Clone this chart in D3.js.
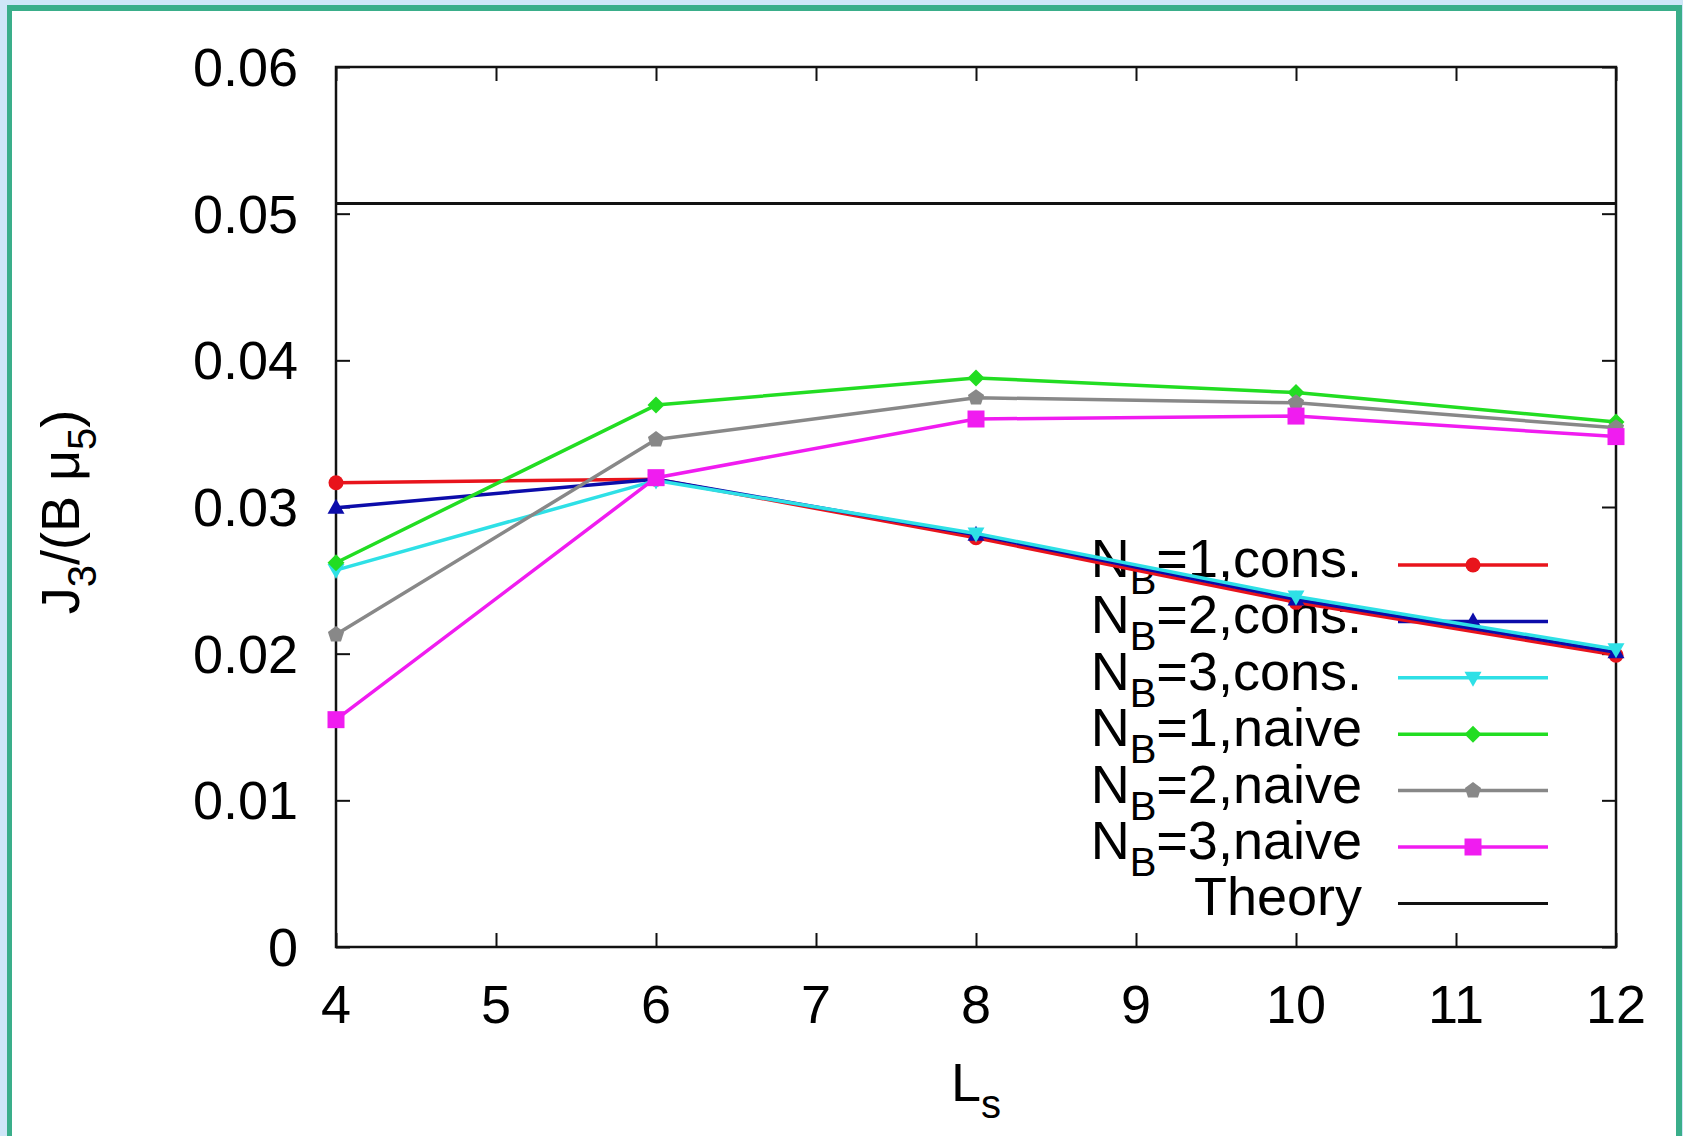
<!DOCTYPE html>
<html>
<head>
<meta charset="utf-8">
<script src="https://cdn.jsdelivr.net/npm/d3@7"></script>
<style>
  html, body { margin: 0; padding: 0; background: #cfe6f8; }
  svg { display: block; }
  text { font-family: "Liberation Sans", Arial, Helvetica, sans-serif; fill: #000; }
</style>
</head>
<body>
<svg id="chart" width="1683" height="1136"></svg>
<script>
// ---------------- data ----------------
const Ls = [4, 6, 8, 10, 12];
const nb1Cons  = [0.03165, 0.0319, 0.0279, 0.0235, 0.0199];
const nb2Cons  = [0.02995, 0.0319, 0.0281, 0.0237, 0.0201];
const nb3Cons  = [0.0257, 0.0318, 0.0282, 0.0239, 0.0203];
const nb1Naive = [0.0262, 0.03695, 0.0388, 0.0378, 0.0358];
const nb2Naive = [0.0213, 0.0346, 0.03745, 0.0371, 0.0354];
const nb3Naive = [0.0155, 0.0320, 0.0360, 0.0362, 0.0348];
const theoryValue = 0.0507;
const xTicks = [4, 5, 6, 7, 8, 9, 10, 11, 12];
const yTicks = [0, 0.01, 0.02, 0.03, 0.04, 0.05, 0.06];
const yTickLabels = ["0", "0.01", "0.02", "0.03", "0.04", "0.05", "0.06"];

const series = [
  { nb: "1", kind: "cons.", values: nb1Cons,  color: "#e8141c", shape: "circle" },
  { nb: "2", kind: "cons.", values: nb2Cons,  color: "#0c0caa", shape: "triUp" },
  { nb: "3", kind: "cons.", values: nb3Cons,  color: "#2ee0e6", shape: "triDown" },
  { nb: "1", kind: "naive", values: nb1Naive, color: "#22dd22", shape: "diamond" },
  { nb: "2", kind: "naive", values: nb2Naive, color: "#888888", shape: "pentagon" },
  { nb: "3", kind: "naive", values: nb3Naive, color: "#f01cf0", shape: "square" }
];

// ---------------- layout ----------------
const svg = d3.select("#chart");
const W = 1683, H = 1136;
const plot = { left: 336, right: 1616, top: 67, bottom: 947 };

// page frame
svg.append("rect").attr("x", 0).attr("y", 0).attr("width", W).attr("height", H).attr("fill", "#cfe6f8");
svg.append("rect").attr("x", 7).attr("y", 5).attr("width", 1675).attr("height", H).attr("fill", "#3aae8a");
svg.append("rect").attr("x", 12).attr("y", 11).attr("width", 1664).attr("height", H).attr("fill", "#ffffff");

const x = d3.scaleLinear().domain([4, 12]).range([plot.left, plot.right]);
const y = d3.scaleLinear().domain([0, 0.06]).range([plot.bottom, plot.top]);

const FS = 54, SUB = 40, SUBDY = 17;
const tickLen = 14;

// ticks (inward, mirrored) via d3 axes
const axB = svg.append("g").attr("transform", `translate(0,${plot.bottom})`)
  .call(d3.axisTop(x).tickValues(xTicks).tickSize(tickLen).tickFormat(""));
const axT = svg.append("g").attr("transform", `translate(0,${plot.top})`)
  .call(d3.axisBottom(x).tickValues(xTicks).tickSize(tickLen).tickFormat(""));
const axL = svg.append("g").attr("transform", `translate(${plot.left},0)`)
  .call(d3.axisRight(y).tickValues(yTicks).tickSize(tickLen).tickFormat(""));
const axR = svg.append("g").attr("transform", `translate(${plot.right},0)`)
  .call(d3.axisLeft(y).tickValues(yTicks).tickSize(tickLen).tickFormat(""));
[axB, axT, axL, axR].forEach(g => {
  g.select(".domain").remove();
  g.selectAll(".tick line").attr("stroke", "#111").attr("stroke-width", 2);
});

// tick labels
svg.append("g").selectAll("text").data(xTicks).join("text")
  .attr("x", d => x(d)).attr("y", plot.bottom + 76)
  .attr("text-anchor", "middle").attr("font-size", FS)
  .text(d => d);
svg.append("g").selectAll("text").data(yTicks).join("text")
  .attr("x", 298).attr("y", d => y(d) + 19)
  .attr("text-anchor", "end").attr("font-size", FS)
  .text((d, i) => yTickLabels[i]);

// axis titles
const xl = svg.append("text").attr("x", (plot.left + plot.right) / 2).attr("y", 1101)
  .attr("text-anchor", "middle").attr("font-size", FS);
xl.append("tspan").text("L");
xl.append("tspan").attr("font-size", SUB).attr("dy", SUBDY).text("s");

const yl = svg.append("text").attr("transform", "translate(79,512) rotate(-90)")
  .attr("text-anchor", "middle").attr("font-size", FS);
yl.append("tspan").text("J");
yl.append("tspan").attr("font-size", SUB).attr("dy", SUBDY).text("3");
yl.append("tspan").attr("dy", -SUBDY).text("/(B μ");
yl.append("tspan").attr("font-size", SUB).attr("dy", SUBDY).text("5");
yl.append("tspan").attr("dy", -SUBDY).text(")");

// marker shapes
function markerPath(shape) {
  const p = d3.path();
  if (shape === "circle") { p.arc(0, 0, 7.5, 0, 2 * Math.PI); p.closePath(); }
  else if (shape === "square") { p.rect(-8.5, -8.5, 17, 17); }
  else if (shape === "triUp") { p.moveTo(0, -9); p.lineTo(8.5, 6); p.lineTo(-8.5, 6); p.closePath(); }
  else if (shape === "triDown") { p.moveTo(0, 9); p.lineTo(8.5, -6); p.lineTo(-8.5, -6); p.closePath(); }
  else if (shape === "diamond") { p.moveTo(0, -8.5); p.lineTo(8.5, 0); p.lineTo(0, 8.5); p.lineTo(-8.5, 0); p.closePath(); }
  else if (shape === "pentagon") {
    for (let k = 0; k < 5; k++) {
      const a = -Math.PI / 2 + k * 2 * Math.PI / 5;
      const px = 8.5 * Math.cos(a), py = 8.5 * Math.sin(a);
      if (k === 0) p.moveTo(px, py); else p.lineTo(px, py);
    }
    p.closePath();
  }
  return p.toString();
}

// legend (drawn under data lines)
const legTextX = 1362, legL1 = 1398, legL2 = 1548, legMx = 1473;
const legY0 = 565, legStep = 56.4;
const legend = svg.append("g");
series.forEach((s, i) => {
  const yy = legY0 + i * legStep;
  const t = legend.append("text").attr("x", legTextX).attr("y", yy + 12)
    .attr("text-anchor", "end").attr("font-size", FS);
  t.append("tspan").text("N");
  t.append("tspan").attr("font-size", SUB).attr("dy", SUBDY).text("B");
  t.append("tspan").attr("dy", -SUBDY).text("=" + s.nb + "," + s.kind);
  legend.append("line").attr("x1", legL1).attr("x2", legL2).attr("y1", yy).attr("y2", yy)
    .attr("stroke", s.color).attr("stroke-width", 3.5);
  legend.append("path").attr("d", markerPath(s.shape))
    .attr("transform", `translate(${legMx},${yy})`).attr("fill", s.color);
});
{
  const yy = legY0 + 6 * legStep;
  legend.append("text").attr("x", legTextX).attr("y", yy + 12)
    .attr("text-anchor", "end").attr("font-size", FS).text("Theory");
  legend.append("line").attr("x1", legL1).attr("x2", legL2).attr("y1", yy).attr("y2", yy)
    .attr("stroke", "#111").attr("stroke-width", 3);
}

// border
svg.append("rect").attr("x", plot.left).attr("y", plot.top)
  .attr("width", plot.right - plot.left).attr("height", plot.bottom - plot.top)
  .attr("fill", "none").attr("stroke", "#111").attr("stroke-width", 2.5);

// data lines + markers
const line = d3.line().x((d, i) => x(Ls[i])).y(d => y(d));
series.forEach(s => {
  const g = svg.append("g");
  g.append("path").attr("d", line(s.values)).attr("fill", "none")
    .attr("stroke", s.color).attr("stroke-width", 3.5).attr("stroke-linejoin", "round");
  g.selectAll("path.m").data(s.values).join("path").attr("class", "m")
    .attr("d", markerPath(s.shape))
    .attr("transform", (d, i) => `translate(${x(Ls[i])},${y(d)})`)
    .attr("fill", s.color);
});

// theory line
svg.append("line").attr("x1", x(4)).attr("x2", x(12))
  .attr("y1", y(theoryValue)).attr("y2", y(theoryValue))
  .attr("stroke", "#111").attr("stroke-width", 3);
</script>
</body>
</html>
